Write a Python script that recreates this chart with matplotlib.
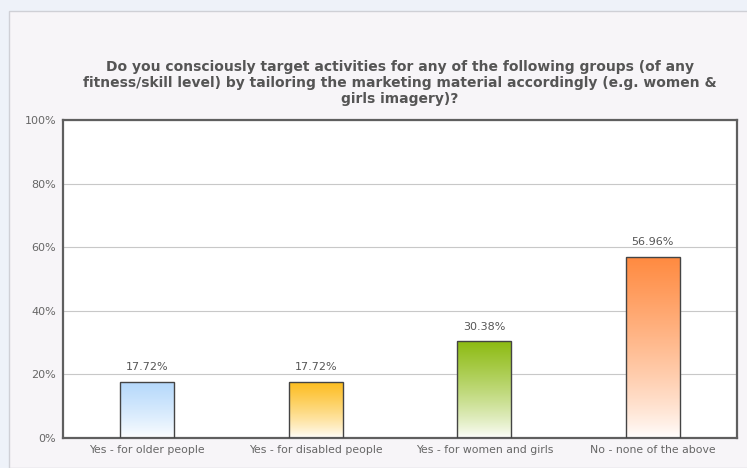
import numpy as np
import matplotlib.pyplot as plt
from matplotlib.colors import LinearSegmentedColormap
from matplotlib.patches import Rectangle

categories = ["Yes - for older people", "Yes - for disabled people",
              "Yes - for women and girls", "No - none of the above"]
values = [17.72, 17.72, 30.38, 56.96]
top_colors = ["#b4d8fb", "#fdbc1c", "#8dbb12", "#ff8a40"]
yticks = [0, 20, 40, 60, 80, 100]

title = ("Do you consciously target activities for any of the following groups (of any\n"
         "fitness/skill level) by tailoring the marketing material accordingly (e.g. women &\n"
         "girls imagery)?")

fig = plt.figure(figsize=(7.47, 4.68), dpi=100)
fig.patch.set_facecolor("#eef2f9")

# light panel behind the chart
panel = Rectangle((9 / 747, 0), 1.0, 1 - 11 / 468, transform=fig.transFigure,
                  facecolor="#f7f5f8", edgecolor="#cfd0d6", linewidth=1.0, zorder=-5)
fig.patches.append(panel)

ax = fig.add_axes([63 / 747, 30 / 468, 674 / 747, 318 / 468])
ax.set_zorder(2)
ax.set_facecolor("white")

for s in ax.spines.values():
    s.set_color("#5f5f5f")
    s.set_linewidth(1.6)

ax.set_yticks(yticks)
ax.set_yticklabels([f"{t}%" for t in yticks])
ax.yaxis.grid(True, color="#c8c8c8", linewidth=0.8)
ax.set_axisbelow(True)
ax.tick_params(axis="y", length=0, pad=5, labelsize=8, labelcolor="#666666")

x = np.arange(len(categories)) + 0.5
ax.set_xticks(x)
ax.set_xticklabels(categories)
ax.tick_params(axis="x", length=0, pad=5, labelsize=7.8, labelcolor="#666666")

width = 0.32
grad = np.linspace(0, 1, 256).reshape(-1, 1)
for xi, v, c in zip(x, values, top_colors):
    cmap = LinearSegmentedColormap.from_list("g", ["white", c])
    rect = Rectangle((xi - width / 2, 0), width, v, facecolor="none",
                     edgecolor="#444444", linewidth=1.0, zorder=3)
    ax.add_patch(rect)
    img = ax.imshow(grad ** 0.8, cmap=cmap, aspect="auto", origin="lower",
                    extent=(xi - width / 2, xi + width / 2, 0, v), zorder=2)
    img.set_clip_path(rect)
    ax.text(xi, v + 3, f"{v:.2f}%", ha="center", va="bottom",
            fontsize=8, color="#555555")

ax.set_xlim(0, 4)
ax.set_ylim(0, 100)

fig.text(400 / 747, 1 - 60 / 468, title, ha="center", va="top", fontsize=10,
         fontweight="bold", color="#555555", linespacing=1.18, zorder=3)

fig.savefig("out.png", dpi=100, facecolor=fig.get_facecolor())
